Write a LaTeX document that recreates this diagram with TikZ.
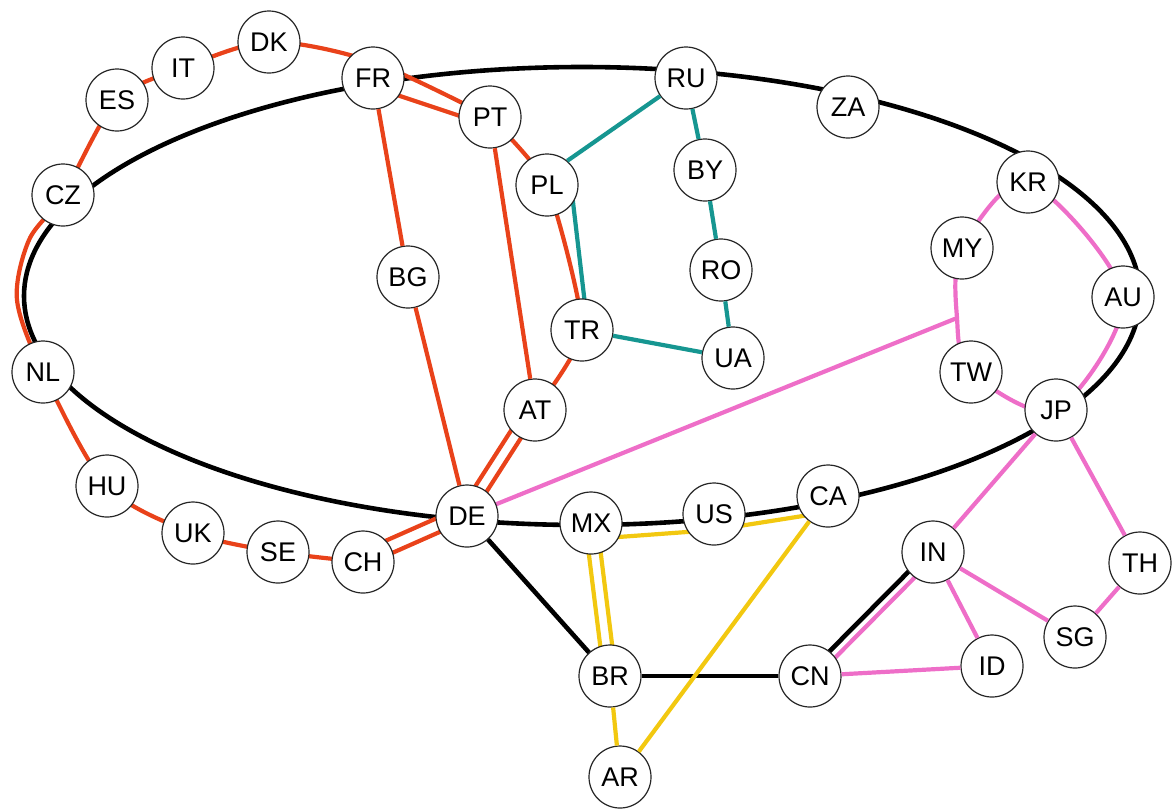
\documentclass[tikz,border=0pt]{standalone}
\usepackage{fontspec}
\setmainfont{Liberation Sans}
\usetikzlibrary{backgrounds}
\definecolor{eured}{RGB}{233,66,26}
\definecolor{cisteal}{RGB}{22,150,145}
\definecolor{asiapink}{RGB}{238,110,200}
\definecolor{ameryel}{RGB}{242,200,16}
\tikzset{ctry/.style={circle, draw=black!85, line width=0.6pt, fill=white, minimum size=31pt, inner sep=0pt, font=\fontsize{13.5}{13.5}\selectfont}}
\tikzset{link/.style={line width=2.3pt, black}}
\tikzset{eu/.style={line width=2.1pt, eured}}
\tikzset{cis/.style={line width=2.1pt, cisteal}}
\tikzset{asia/.style={line width=2.1pt, asiapink}}
\tikzset{amer/.style={line width=2.1pt, ameryel}}

\begin{document}
\begin{tikzpicture}[x=0.5pt, y=-0.5pt, line join=round, every node/.style=ctry]
        \useasboundingbox (0,0) rectangle (1172,810);
        \node (DK) at (269,42) {DK};
        \node (IT) at (183,68) {IT};
        \node (ES) at (117,100) {ES};
        \node (CZ) at (63,195) {CZ};
        \node (FR) at (373,78) {FR};
        \node (PT) at (490,117) {PT};
        \node (PL) at (547,185) {PL};
        \node (RU) at (686,78) {RU}
          edge [cis] (PL.50);
        \node (ZA) at (848,107) {ZA};
        \node (BY) at (705,170) {BY}
          edge [cis] (RU);
        \node (RO) at (721,270) {RO}
          edge [cis] (BY);
        \node (TR) at (582,330) {TR};
        \node (UA) at (733,358) {UA}
          edge [cis] (RO)
          edge [cis] (TR);
        \node (BG) at (408,277) {BG}
          edge [eu] (FR);
        \node (AT) at (535,410) {AT}
          edge [eu] (PT);
        \node (NL) at (43,372) {NL};
        \node (HU) at (107,486) {HU};
        \node (UK) at (193,533) {UK};
        \node (SE) at (278,552) {SE};
        \node (CH) at (363,562) {CH};
        \node (DE) at (467,516) {DE}
          edge [eu] (BG);
        \node (MX) at (591,523) {MX};
        \node (US) at (714,514) {US};
        \node (CA) at (828,496) {CA};
        \node (KR) at (1028,182) {KR};
        \node (MY) at (962,248) {MY};
        \node (AU) at (1123,297) {AU};
        \node (TW) at (971,372) {TW};
        \node (JP) at (1056,410) {JP};
        \node (IN) at (933,552) {IN}
          edge [asia] (JP);
        \node (TH) at (1140,563) {TH}
          edge [asia] (JP);
        \node (SG) at (1075,637) {SG}
          edge [asia] (IN)
          edge [asia] (TH);
        \node (BR) at (610,676) {BR}
          edge [link] (DE);
        \node (CN) at (810,676) {CN}
          edge [link] (BR);
        \node (ID) at (992,666) {ID}
          edge [asia] (CN)
          edge [asia] (IN);
        \node (AR) at (620,777) {AR}
          edge [amer] (BR)
          edge [amer] (CA);
        \coordinate (hub) at (582,296);
        \coordinate (frtop) at ([yshift=8pt]FR.center);
        \coordinate (wa) at (29,240);
        \coordinate (wb) at (17,300);
        \coordinate (mt) at (957,318);
        \begin{pgfonlayer}{background}
          \draw[link] (hub) ellipse [x radius=279pt, y radius=114.5pt];
          \draw[eu] plot[smooth] coordinates {(PT.center) (frtop) (DK.center) (IT.center) (ES.center) (CZ.center) (wa) (wb) (NL.center) (HU.center) (UK.center) (SE.center) (CH.center)};
          \draw[eu] plot[smooth, tension=0.35] coordinates {(AT.center) (TR.center) (PL.center) (PT.center)};
          \draw[eu, transform canvas={shift={(-2.5pt,4.5pt)}}] (CH.center) -- (DE.center) -- (AT.center);
          \draw[eu, transform canvas={shift={(1pt,-1.5pt)}}] (CH.center) -- (DE.center) -- (AT.center);
          \draw[eu, transform canvas={yshift=-4.5pt}] (FR.center) -- (PT.center);
          \draw[cis] ([xshift=12pt]PL.center) -- ([xshift=3pt]TR.center);
          \draw[asia] plot[smooth cycle] coordinates {(KR.center) (MY.center) (mt) (TW.center) (JP.center) (AU.center)};
          \draw[asia] (DE.center) -- (mt);
          \draw[asia, transform canvas={shift={(1.75pt,-1.75pt)}}] (CN.center) -- (IN.center);
          \draw[link, transform canvas={shift={(-1.25pt,1.25pt)}}] (CN.center) -- (IN.center);
          \draw[amer, transform canvas={yshift=-8pt}] (MX.center) -- (US.center) -- (CA.center);
          \draw[amer, transform canvas={xshift=-3pt}] (MX.center) -- (BR.center);
          \draw[amer, transform canvas={xshift=3pt}] (MX.center) -- (BR.center);
        \end{pgfonlayer}
      \end{tikzpicture}
\end{document}
